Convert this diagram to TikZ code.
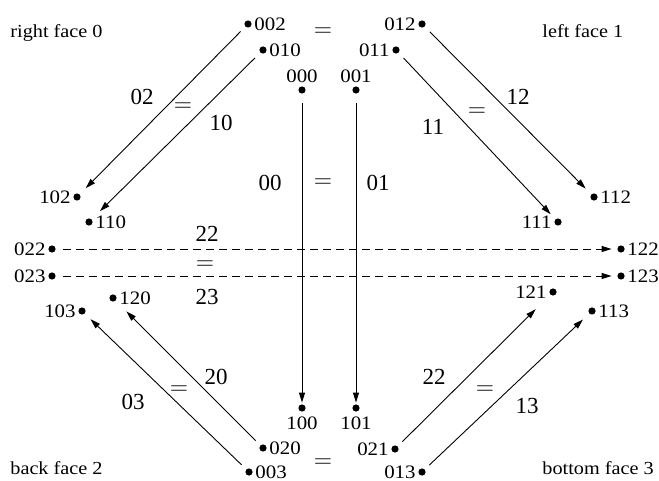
\documentclass[tikz,border=0pt]{standalone}
\usepackage{fontspec}
\setmainfont{Liberation Serif}
\newfontfamily\lblfont{Liberation Serif}[FakeStretch=1.1]
\usetikzlibrary{arrows.meta}
\begin{document}
\begin{tikzpicture}[x=0.5pt,y=-0.5pt,
 dot/.style={circle,fill=black,inner sep=0pt,minimum size=3.6pt},
 every label/.style={font=\lblfont\fontsize{9.5}{11}\selectfont,inner sep=1pt},
 elbl/.style={font=\fontsize{11.5}{13}\selectfont,inner sep=0pt},
 face/.style={font=\lblfont\fontsize{9.2}{11}\selectfont,anchor=base west,inner sep=0pt},
 arr/.style={line width=0.45pt,-{Triangle[length=5pt,width=3pt]}},
 darr/.style={arr,dash pattern=on 4pt off 2.5pt},
 ]
\useasboundingbox (0,0) rectangle (659,481);
% face labels
\node[face] (f0) at (10,38) {right face 0};
\node[face] (f1) at (542,38) {left face 1};
\node[face] (f2) at (10,474) {back face 2};
\node[face] (f3) at (542,474) {bottom face 3};
% dots
\node[dot,label=right:002] (n002) at (248,24) {};
\node[dot,label=right:010] (n010) at (263,50) {};
\node[dot,label={[label distance=0.5pt]above:000}] (n000) at (302,90) {};
\node[dot,label={[label distance=0.5pt]above:001}] (n001) at (356,90) {};
\node[dot,label=left:012] (n012) at (422,24) {};
\node[dot,label=left:011] (n011) at (396,50) {};
\node[dot,label=left:102] (n102) at (77,197) {};
\node[dot,label=right:110] (n110) at (89,222) {};
\node[dot,label=right:112] (n112) at (594,197) {};
\node[dot,label=left:111] (n111) at (558,222) {};
\node[dot,label=left:022] (n022) at (52,249) {};
\node[dot,label=left:023] (n023) at (52,276) {};
\node[dot,label=right:122] (n122) at (621,249) {};
\node[dot,label=right:123] (n123) at (621,276) {};
\node[dot,label=right:120] (n120) at (113,298) {};
\node[dot,label=left:103] (n103) at (82,311) {};
\node[dot,label=left:121] (n121) at (553,292) {};
\node[dot,label=right:113] (n113) at (592,311) {};
\node[dot,label={[label distance=1pt]below:100}] (n100) at (302,408) {};
\node[dot,label={[label distance=1pt]below:101}] (n101) at (356,408) {};
\node[dot,label=right:020] (n020) at (263,448) {};
\node[dot,label=right:003] (n003) at (249,472) {};
\node[dot,label=left:021] (n021) at (395,449) {};
\node[dot,label=left:013] (n013) at (422,472) {};
% arrows
\draw[arr,shorten <=3.3pt,shorten >=4.2pt] (n002) -- (n102);
\draw[arr,shorten <=3.6pt,shorten >=5.7pt] (n010) -- (n110);
\draw[arr,shorten <=3.5pt,shorten >=3.9pt] (n012) -- (n112);
\draw[arr,shorten <=3.5pt,shorten >=3.3pt] (n011) -- (n111);
\draw[arr,shorten <=4.7pt,shorten >=0.7pt] (n000) -- (n100);
\draw[arr,shorten <=4.7pt,shorten >=0.7pt] (n001) -- (n101);
\draw[darr,shorten <=3.7pt,shorten >=2.7pt] (n022) -- (n122);
\draw[darr,shorten <=3.7pt,shorten >=2.7pt] (n023) -- (n123);
\draw[arr,shorten <=3.2pt,shorten >=7.5pt] (n020) -- (n120);
\draw[arr,shorten <=3.2pt,shorten >=3.9pt] (n003) -- (n103);
\draw[arr,shorten <=3.2pt,shorten >=10.2pt] (n021) -- (n121);
\draw[arr,shorten <=3.0pt,shorten >=4.2pt] (n013) -- (n113);
% edge labels
\node[elbl] (l02) at (142,97) {02};
\node[elbl] (e1) at (183,107) {$=$};
\node[elbl] (l10) at (221,123) {10};
\node[elbl] (l00) at (270,183) {00};
\node[elbl] (e2) at (323,183) {$=$};
\node[elbl] (l01) at (378,183) {01};
\node[elbl] (l12) at (518,97) {12};
\node[elbl] (e3) at (477,112) {$=$};
\node[elbl] (l11) at (433,127) {11};
\node[elbl] (l22a) at (207,234) {22};
\node[elbl] (e4) at (205,265) {$=$};
\node[elbl] (l23) at (207,297) {23};
\node[elbl] (l20) at (216,377) {20};
\node[elbl] (e5) at (179,390) {$=$};
\node[elbl] (l03) at (133,402) {03};
\node[elbl] (l22b) at (434,377) {22};
\node[elbl] (e6) at (485,390) {$=$};
\node[elbl] (l13) at (527,406) {13};
\node[elbl] (e7) at (323,32) {$=$};
\node[elbl] (e8) at (323,463) {$=$};
\end{tikzpicture}
\end{document}
